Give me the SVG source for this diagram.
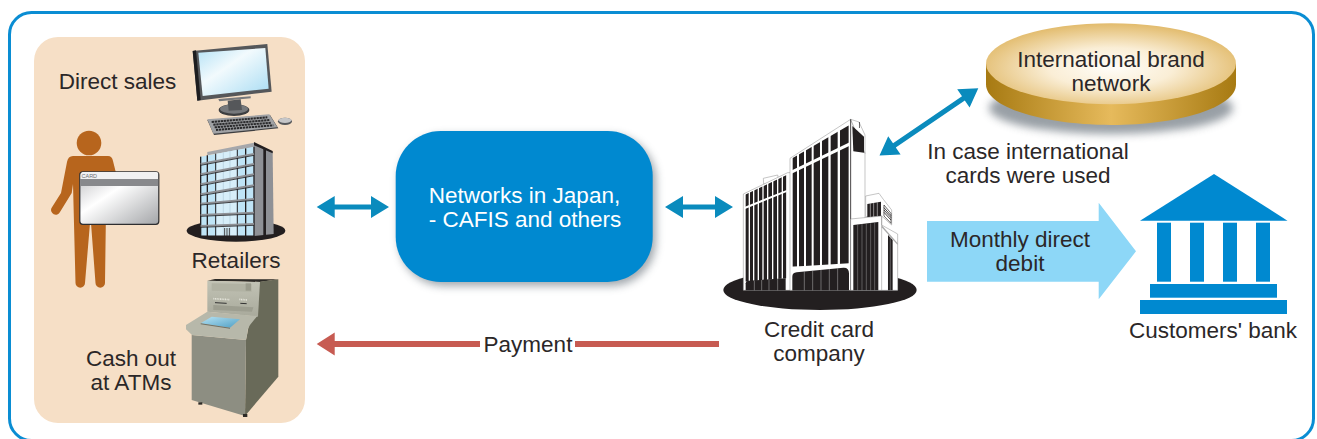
<svg xmlns="http://www.w3.org/2000/svg" width="1317" height="439" viewBox="0 0 1317 439">
<style>
text{font-family:"Liberation Sans",Arial,sans-serif;font-size:22.5px;fill:#2b2728;text-anchor:middle}
.w{fill:#fff}
.dk{fill:#231f20}
.bl{fill:#0089d0}
.ar{fill:#0a8bbd}
.bw{fill:#fff;stroke:#8a8a8a;stroke-width:1.5}
.win line{stroke:#231f20}
</style>
<defs>
<filter id="sh" x="-20%" y="-20%" width="140%" height="150%"><feGaussianBlur stdDeviation="4"/></filter>
<radialGradient id="disk" cx="50%" cy="55%" r="55%"><stop offset="0" stop-color="#fffdf8"/><stop offset=".45" stop-color="#faeed6"/><stop offset="1" stop-color="#e2bb6c"/></radialGradient>
<linearGradient id="rim"><stop offset="0" stop-color="#a77a12"/><stop offset=".5" stop-color="#e6ba5c"/><stop offset="1" stop-color="#a77a12"/></linearGradient>
<linearGradient id="card" x1="0" y1="0" x2="1" y2="1"><stop offset="0" stop-color="#bfc0c2"/><stop offset=".4" stop-color="#fff"/><stop offset="1" stop-color="#a3a5a8"/></linearGradient>
<linearGradient id="scr" x1="0" y1="0" x2="1" y2="1"><stop offset="0" stop-color="#b5e2f6"/><stop offset=".4" stop-color="#f2fafd"/><stop offset="1" stop-color="#a8dcf3"/></linearGradient>
<linearGradient id="atmS" x1="0" y1="0" x2="1" y2="1"><stop offset="0" stop-color="#b7e3f4"/><stop offset="1" stop-color="#4f9fc4"/></linearGradient>
<linearGradient id="atmT" x1="0" y1="0" x2="0" y2="1"><stop offset="0" stop-color="#c2c3b5"/><stop offset="1" stop-color="#a9aa9c"/></linearGradient>
</defs>

<rect id="frame" x="9.5" y="12.5" width="1304" height="428" rx="22" fill="#fff" stroke="#0a8dd3" stroke-width="3"/>
<rect id="panel" x="34" y="37" width="271" height="386" rx="24" fill="#f6dfc6"/>

<g id="connectors">
<path class="ar" d="M316.700 207l18-11v8.500h36.300V196l18 11-18 11v-8.500h-36.300V218z"/>
<path class="ar" d="M665 207l18-11v8.500h32V196l18 11-18 11v-8.500h-32V218z"/>
<path class="ar" d="M879.500 155.500L888.200 136.300 893 143.300 962 96.300 957.200 89.300 978.300 88.300 969.600 107.500 964.800 100.500 895.800 147.500 900.600 154.500z"/>
<g fill="#c75b52">
<path d="M316.700 344l18-11.500V341H480v6H334.700v8.500z"/>
<rect x="575" y="341" width="144" height="6"/>
</g>
<path id="debit-arrow" d="M927 221H1098.700V202.700L1136 251.300l-37.300 48V281.700H927z" fill="#8dd7f7"/>
</g>

<g id="direct-sales">
<text x="117.500" y="89">Direct sales</text>
</g>

<g id="computer" transform="translate(190 40) scale(.3333)">
<polygon points="8,33 232,12 245,155 22,182" fill="#55575a"/>
<polygon points="8,33 18,31 32,180 22,182" fill="#1d1d1f"/>
<polygon points="25,38 226,24 236,146 38,168" fill="url(#scr)"/>
<polygon points="85,177 182,169 182,175 88,184" fill="#77797c"/>
<ellipse cx="132" cy="210" rx="46" ry="18" fill="#3d3e40"/>
<ellipse cx="132" cy="207" rx="42" ry="14" fill="#77797c"/>
<polygon points="113,182 152,178 156,210 116,212" fill="#55575a"/>
<polygon points="52,240 240,225 265,265 72,285" fill="#3d3e40"/>
<polygon points="52,238 238,223 262,262 70,281" fill="#a0a2a5"/>
<g stroke="#2a2a2c" stroke-width="6" stroke-dasharray="7 2" fill="none">
<line x1="65" y1="246" x2="232" y2="232"/>
<line x1="70" y1="254" x2="238" y2="240"/>
<line x1="74" y1="262" x2="244" y2="248"/>
<line x1="78" y1="270" x2="250" y2="256"/>
</g>
<ellipse cx="285" cy="244" rx="21" ry="11" fill="#55575a"/>
<ellipse cx="285" cy="241" rx="19" ry="8" fill="#c5c6c8"/>
</g>

<g id="retailers">
<g transform="translate(180 140) scale(.3333)">
<ellipse cx="168" cy="272" rx="148" ry="33" class="dk"/>
<polygon points="222,8 278,35 281,282 222,288" fill="#8f9196"/>
<polygon points="250,26 258,30 258,285 250,286" fill="#231f20"/>
<polygon points="222,6 278,33 278,40 222,16" fill="#231f20"/>
<polygon points="82,36 222,8 222,22 82,46" fill="#a5a7ab"/>
<polygon points="62,50 222,20 222,288 62,288" fill="#bfe4f6"/>
<polygon points="110,42 170,30 170,288 110,288" fill="#d7eef9"/>
<g class="win" fill="none">
<line x1="62" y1="50" x2="62" y2="288" stroke-width="4"/>
<line x1="82" y1="46" x2="82" y2="288" stroke-width="4"/>
<line x1="107" y1="41" x2="107" y2="288" stroke-width="3"/>
<line x1="130" y1="37" x2="130" y2="288" stroke-width="1" style="stroke:#8ab"/>
<line x1="150" y1="33" x2="150" y2="288" stroke-width="1" style="stroke:#8ab"/>
<line x1="172" y1="29" x2="172" y2="288" stroke-width="3"/>
<line x1="197" y1="25" x2="197" y2="288" stroke-width="4"/>
<line x1="222" y1="20" x2="222" y2="288" stroke-width="4"/>
</g>
<g fill="none" stroke="#8f9196" stroke-width="6">
<line x1="62" y1="72" x2="222" y2="42"/>
<line x1="62" y1="103" x2="222" y2="72"/>
<line x1="62" y1="133" x2="222" y2="103"/>
<line x1="62" y1="163" x2="222" y2="136"/>
<line x1="62" y1="191" x2="222" y2="177"/>
<line x1="62" y1="225" x2="222" y2="218"/>
<line x1="62" y1="258" x2="222" y2="252"/>
</g>
<g fill="none" stroke="#231f20" stroke-width="2.500">
<line x1="62" y1="76" x2="222" y2="46"/>
<line x1="62" y1="107" x2="222" y2="76"/>
<line x1="62" y1="137" x2="222" y2="107"/>
<line x1="62" y1="167" x2="222" y2="140"/>
<line x1="62" y1="195" x2="222" y2="181"/>
<line x1="62" y1="229" x2="222" y2="222"/>
<line x1="62" y1="262" x2="222" y2="256"/>
<line x1="134" y1="264" x2="134" y2="288"/>
<line x1="141" y1="264" x2="141" y2="288"/>
<line x1="148" y1="264" x2="148" y2="288"/>
</g>
<line x1="62" y1="288" x2="222" y2="288" stroke="#231f20" stroke-width="3"/>
</g>
<text x="236" y="268">Retailers</text>
</g>

<g id="customer">
<circle cx="89" cy="143" r="12.300" fill="#b7651d"/>
<path fill="#b7651d" d="M73 156H108q4 0 5 5l3 12H106.500L105 283a4.500 4.500 0 0 1-9.500 0L91 223H90L85 283a4.500 4.500 0 0 1-9.500 0L73 184 71.700 193 60 212a4.500 4.500 0 0 1-8.500-4L61 193 67 162q1-6 6-6z"/>
<rect x="79.800" y="171.800" width="79" height="52.500" rx="3" fill="url(#card)" stroke="#2e2e30" stroke-width="1.200"/>
<path d="M80.500 179V175a3 3 0 0 1 2-3H156a2 2 0 0 1 2 3v4z" fill="#f1f1f2"/>
<rect x="80.400" y="179" width="77.800" height="7" fill="#88898c"/>
<text x="81.500" y="178" style="font-size:5.500px;fill:#6d6e71;text-anchor:start">CARD</text>
</g>

<g id="atm">
<g transform="translate(170 260) scale(.3333)">
<polygon points="112,62 135,57 325,58 270,66" fill="#2d2b27"/>
<polygon points="262,66 325,58 325,350 225,468 228,240" fill="#696a59"/>
<polygon points="65,225 228,240 225,468 65,420" fill="#8d8e82"/>
<polygon points="112,62 270,66 264,170 112,155" fill="url(#atmT)"/>
<polygon points="125,70 245,72 245,95 125,92" fill="#b1b2a3"/>
<polygon points="130,135 250,142 246,155 130,150" fill="#9d9e90"/>
<path d="M48 195L112 155 262 168 240 195Q232 205 232 220L228 240 66 225 48 208z" fill="#b7b8aa"/>
<polygon points="92,190 125,170 210,178 180,203" fill="url(#atmS)"/>
<polygon points="92,190 180,203 180,206 92,193" fill="#6f7064"/>
<g stroke="#333" fill="none">
<line x1="135" y1="128" x2="170" y2="130" stroke-width="3"/>
<line x1="211" y1="130" x2="230" y2="131" stroke-width="3"/>
<line x1="130" y1="116" x2="180" y2="119" stroke-width="5" stroke-dasharray="3 2" style="stroke:#e4e4da"/>
<line x1="208" y1="118" x2="232" y2="120" stroke-width="5" style="stroke:#e4e4da" stroke-dasharray="3 2"/>
</g>
<rect x="227" y="70" width="16" height="22" fill="#9a9b8c"/>
<rect x="85" y="427" width="12" height="7" fill="#2d2b27"/>
<rect x="219" y="462" width="13" height="9" fill="#2d2b27"/>
</g>
<text x="131" y="365.700">Cash out</text>
<text x="131" y="389.700">at ATMs</text>
</g>

<g id="networks">
<rect x="399" y="135" width="257" height="151" rx="45" fill="#55606a" opacity=".55" filter="url(#sh)"/>
<rect x="395.700" y="131" width="257" height="151" rx="45" class="bl"/>
<text x="524.500" y="202.700" class="w">Networks in Japan,</text>
<text x="525" y="226.700" class="w">- CAFIS and others</text>
</g>

<g id="credit-card-company">
<g transform="translate(715 110) scale(.3333)">
<ellipse cx="315" cy="540" rx="290" ry="60" class="dk"/>
<polygon points="145,205 188,195 190,205 160,222 146,222" class="bw"/>
<polygon points="85,252 218,188 232,188 232,541 85,541" class="bw"/>
<clipPath id="lw"><polygon points="90,254 215,195 215,505 90,515"/></clipPath>
<g clip-path="url(#lw)" fill="#231f20">
<rect x="92" y="190" width="9" height="330"/><rect x="105" y="190" width="9" height="330"/><rect x="118" y="190" width="10" height="330"/><rect x="132" y="190" width="10" height="330"/><rect x="146" y="190" width="10" height="330"/><rect x="160" y="190" width="11" height="330"/><rect x="175" y="190" width="11" height="330"/><rect x="190" y="190" width="10" height="330"/><rect x="204" y="190" width="10" height="330"/>
</g>
<polygon points="90,290 215,240 215,246 90,297" fill="#fff"/>
<path d="M92 541V520Q92 513 100 512L212 505V541z" fill="#231f20"/>
<g stroke="#bbb" stroke-width="1.500"><line x1="118" y1="512" x2="118" y2="541"/><line x1="140" y1="510" x2="140" y2="541"/><line x1="162" y1="509" x2="162" y2="541"/><line x1="188" y1="507" x2="188" y2="541"/></g>
<polygon points="405,250 452,250 452,253 505,268 548,370 548,541 405,541" fill="#fff"/>
<polygon points="225,145 407,28 450,130 450,330 407,330 407,541 225,541" class="bw"/>
<polygon points="407,28 432,36 450,75 450,130" class="bw"/>
<line x1="407" y1="28" x2="407" y2="541" stroke="#231f20" stroke-width="2.500"/>
<polygon points="412,48 447,80 447,128 415,124" fill="#231f20"/>
<rect x="432" y="36" width="2" height="18" fill="#231f20"/>
<clipPath id="mt"><polygon points="232,145 402,46 402,460 232,470"/></clipPath>
<g clip-path="url(#mt)" fill="#231f20">
<rect x="232" y="30" width="14" height="450"/><rect x="252" y="30" width="15" height="450"/><rect x="273" y="30" width="17" height="450"/><rect x="296" y="30" width="19" height="450"/><rect x="321" y="30" width="19" height="450"/><rect x="347" y="30" width="21" height="450"/><rect x="375" y="30" width="26" height="450"/>
</g>
<polygon points="228,182 404,97 404,107 228,192" fill="#fff"/>
<path d="M232 541V500Q232 488 245 487L385 473Q402 472 402 490V541z" fill="#231f20"/>
<g stroke="#bbb" stroke-width="1.500"><line x1="268" y1="484" x2="268" y2="541"/><line x1="293" y1="482" x2="293" y2="541"/><line x1="318" y1="480" x2="318" y2="541"/><line x1="343" y1="477" x2="343" y2="541"/><line x1="368" y1="475" x2="368" y2="541"/></g>
<polygon points="452,258 492,250 505,268 530,300 530,345 500,318 452,320" class="bw"/>
<polygon points="457,282 498,275 498,318 457,322" fill="#231f20"/>
<g stroke="#fff" stroke-width="1.500"><line x1="466" y1="280" x2="466" y2="322"/><line x1="476" y1="279" x2="476" y2="322"/><line x1="487" y1="277" x2="487" y2="320"/></g>
<polygon points="507,285 528,310 528,340 507,318" fill="#fff" stroke="#231f20" stroke-width="2"/>
<g stroke="#231f20" stroke-width="2.500"><line x1="507" y1="293" x2="528" y2="317"/><line x1="507" y1="300" x2="528" y2="323"/><line x1="507" y1="307" x2="528" y2="330"/></g>
<polygon points="407,327 500,318 500,345 548,372 548,541 407,541" class="bw"/>
<line x1="500" y1="318" x2="500" y2="541" stroke="#8a8a8a" stroke-width="1.500"/>
<polygon points="500,345 548,400 548,405 500,352" fill="#aaa"/>
<polygon points="415,345 490,336 490,541 415,541" fill="#231f20"/>
<g stroke="#999" stroke-width="1.500"><line x1="428" y1="343" x2="428" y2="541"/><line x1="441" y1="342" x2="441" y2="541"/><line x1="454" y1="341" x2="454" y2="541"/><line x1="467" y1="340" x2="467" y2="541"/><line x1="479" y1="338" x2="479" y2="541"/></g>
<polygon points="519,375 533,390 533,541 519,541" fill="#231f20"/>
<line x1="526" y1="383" x2="526" y2="541" stroke="#999" stroke-width="1.500"/>
</g>
<text x="819" y="337">Credit card</text>
<text x="819" y="361">company</text>
</g>

<g id="international-brand-network">
<ellipse cx="1111" cy="108" rx="122" ry="26" fill="#55606a" opacity=".6" filter="url(#sh)"/>
<path d="M986 64V84.500C986 107 1042 125 1111 125S1236 107 1236 84.500V64z" fill="url(#rim)"/>
<ellipse cx="1111" cy="63.700" rx="125" ry="40.500" fill="url(#disk)"/>
<text x="1111" y="67.300">International brand</text>
<text x="1111" y="91">network</text>
</g>

<g id="labels">
<text x="1028" y="159">In case international</text>
<text x="1028" y="182.700">cards were used</text>
<text x="1020" y="246.700">Monthly direct</text>
<text x="1020" y="270.700">debit</text>
<text x="528" y="352">Payment</text>
</g>

<g id="customers-bank">
<polygon points="1214,174 1287.500,220.700 1140,220.700" class="bl"/>
<rect x="1157" y="222.700" width="14" height="59" class="bl"/>
<rect x="1190" y="222.700" width="14" height="59" class="bl"/>
<rect x="1223" y="222.700" width="14" height="59" class="bl"/>
<rect x="1256" y="222.700" width="14" height="59" class="bl"/>
<rect x="1150" y="284" width="127" height="13.700" class="bl"/>
<rect x="1140" y="300" width="147" height="14" class="bl"/>
<text x="1213" y="338">Customers' bank</text>
</g>
</svg>
